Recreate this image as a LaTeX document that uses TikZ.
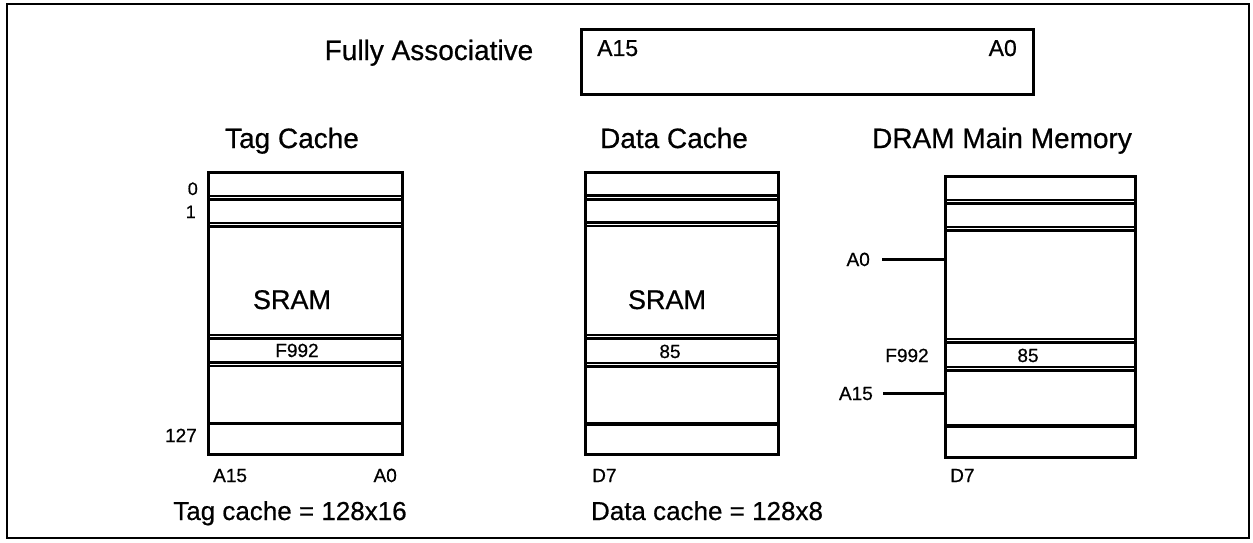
\documentclass[tikz,border=0pt]{standalone}
\usepackage{fontspec}
\setmainfont{Liberation Sans}[FakeBold=0.6]
\begin{document}
\begin{tikzpicture}[x=1pt,y=-1pt,
  big/.style={font=\fontsize{28}{32}\selectfont, inner sep=0pt, anchor=base},
  foot/.style={font=\fontsize{26}{30}\selectfont, inner sep=0pt, anchor=base},
  sram/.style={font=\fontsize{27}{30}\selectfont, inner sep=0pt, anchor=base},
  mid/.style={font=\fontsize{23}{26}\selectfont, inner sep=0pt},
  small/.style={font=\fontsize{19}{22}\selectfont, inner sep=0pt},
  tiny/.style={font=\fontsize{18}{20}\selectfont, inner sep=0pt},
  frame/.style={line width=3.2pt},
  rowline/.style={line width=2.3pt},
  thickrow/.style={line width=3.2pt},
  wire/.style={line width=2.6pt}]
\useasboundingbox (0,0) rectangle (1253,543);
\draw[line width=2.2pt] (7,4) rectangle (1249,538);

% top
\node[big] (fa) at (429,60) {Fully Associative};
\node[draw, line width=2.6pt, minimum width=452pt, minimum height=65pt, anchor=north west, inner sep=0pt] (addr) at (580,28) {};
\node[mid, anchor=base west] (a15top) at (597,56) {A15};
\node[mid, anchor=base east] (a0top) at (1017,56) {A0};

% titles
\node[big] (tagt) at (292,148) {Tag Cache};
\node[big] (datat) at (674,148) {Data Cache};
\node[big] (dramt) at (1002,148) {DRAM Main Memory};

% tag cache
\node[draw, frame, minimum width=194pt, minimum height=282pt, anchor=north west, inner sep=0pt] (tag) at (207,171) {};
\foreach \y in {196,199.5,223,226.5,335,338.5,362.5,366} \draw[rowline] (207,\y) -- (401,\y);
\draw[thickrow] (207,423.5) -- (401,423.5);
\node[sram] (tagsram) at (292,309) {SRAM};
\node[small, anchor=base] (tagf) at (297,357) {F992};
\node[tiny, anchor=base east] (r0) at (198,195) {0};
\node[tiny, anchor=base east] (r1) at (196,218) {1};
\node[small, anchor=base east] (r127) at (197,442) {127};
\node[small, anchor=base west] (taga15) at (213,482) {A15};
\node[small, anchor=base east] (taga0) at (397,482) {A0};

% data cache
\node[draw, frame, minimum width=193pt, minimum height=282pt, anchor=north west, inner sep=0pt] (data) at (584,171) {};
\foreach \y in {195.5,199.5,222.5,226,335,338.5,363,366.5} \draw[rowline] (584,\y) -- (777,\y);
\draw[thickrow] (584,424) -- (777,424);
\node[sram] (datasram) at (667,309) {SRAM};
\node[small, anchor=base] (d85) at (670,358) {85};
\node[small, anchor=base west] (dd7) at (592,482) {D7};

% DRAM
\node[draw, frame, minimum width=190pt, minimum height=281pt, anchor=north west, inner sep=0pt] (dram) at (944,175) {};
\foreach \y in {200,203.5,227,230.5,339,342.5,367,370.5} \draw[rowline] (944,\y) -- (1134,\y);
\draw[thickrow] (944,426) -- (1134,426);
\node[small, anchor=base east] (ma0) at (870,266) {A0};
\node[small, anchor=base] (mf) at (907,362) {F992};
\node[small, anchor=base east] (ma15) at (873,400) {A15};
\node[small, anchor=base] (m85) at (1028,362) {85};
\node[small, anchor=base west] (md7) at (950,482) {D7};
\draw[wire] ([xshift=12pt]ma0.east) -- (ma0.east -| dram.west);
\draw[wire] ([xshift=10pt]ma15.east) -- (ma15.east -| dram.west);

% bottom
\node[foot] (tagsz) at (290,520) {Tag cache = 128x16};
\node[foot] (datasz) at (707,520) {Data cache = 128x8};
\end{tikzpicture}
\end{document}
